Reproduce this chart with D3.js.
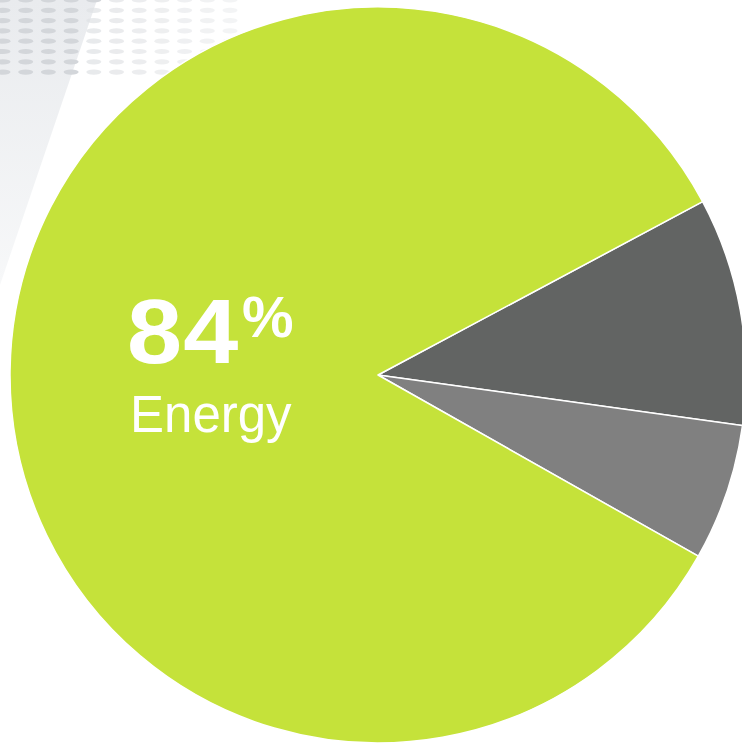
<!DOCTYPE html>
<html>
<head>
<meta charset="utf-8">
<script src="https://cdn.jsdelivr.net/npm/d3@7"></script>
<style>
  html, body { margin: 0; padding: 0; background: #fff; }
  svg { display: block; }
</style>
</head>
<body>
<svg id="chart" width="742" height="744"></svg>
<script>
// slice data, in drawing order (clockwise starting at the upper right)
const categories = ["Other A", "Other B", "Energy"];
const values = [10, 6, 84];
const colors = ["#626463", "#808080", "#c5e23a"];
const mainLabel = "84";
const mainName = "Energy";

const svg = d3.select("#chart");

// faint decorative background, top left
const defs = svg.append("defs");
const grad = defs.append("linearGradient")
  .attr("id", "band").attr("x1", 0).attr("y1", 0).attr("x2", 0).attr("y2", 1);
grad.append("stop").attr("offset", "0%").attr("stop-color", "#e9ebee");
grad.append("stop").attr("offset", "100%").attr("stop-color", "#f7f8f9");

svg.append("path")
  .attr("d", "M0,0 L97,0 L0,285 Z")
  .attr("fill", "url(#band)");

const bg = svg.append("g");
for (let r = 0; r < 8; r++) {
  for (let c = 0; c < 11; c++) {
    const x = 3 + c * 22.7;
    const fade = Math.max(0, 1 - x / 240);
    const inBand = x < 97 - (r * 10.3) * 97 / 285;
    bg.append("ellipse")
      .attr("cx", x)
      .attr("cy", r * 10.3)
      .attr("rx", 7.5)
      .attr("ry", 2.6)
      .attr("fill", inBand ? "#d3d6da" : "#dfe1e4")
      .attr("opacity", inBand ? 1 : 0.35 + 0.6 * fade);
  }
}

// pie
const cx = 378, cy = 375, radius = 368;
const start = 61.9 * Math.PI / 180;

const pie = d3.pie()
  .sort(null)
  .value(d => d)
  .startAngle(start)
  .endAngle(start + 2 * Math.PI);

const arc = d3.arc().innerRadius(0).outerRadius(radius);

const g = svg.append("g").attr("transform", `translate(${cx},${cy})`);

g.selectAll("path")
  .data(pie(values))
  .enter()
  .append("path")
  .attr("d", arc)
  .attr("fill", (d, i) => colors[i])
  .attr("stroke", "#ffffff")
  .attr("stroke-width", 1.5)
  .attr("stroke-linejoin", "round");

// label on the big slice
const font = "Liberation Sans, Arial, sans-serif";

svg.append("text")
  .attr("transform", "translate(127,363) scale(1.1,1)")
  .attr("fill", "#ffffff")
  .attr("font-family", font)
  .attr("font-size", 90)
  .attr("font-weight", "bold")
  .attr("letter-spacing", 1)
  .text(mainLabel);

svg.append("text")
  .attr("x", 242)
  .attr("y", 337)
  .attr("fill", "#ffffff")
  .attr("font-family", font)
  .attr("font-size", 58)
  .attr("font-weight", "bold")
  .text("%");

svg.append("text")
  .attr("x", 130)
  .attr("y", 432)
  .attr("fill", "#ffffff")
  .attr("font-family", font)
  .attr("font-size", 51)
  .text(mainName);
</script>
</body>
</html>
